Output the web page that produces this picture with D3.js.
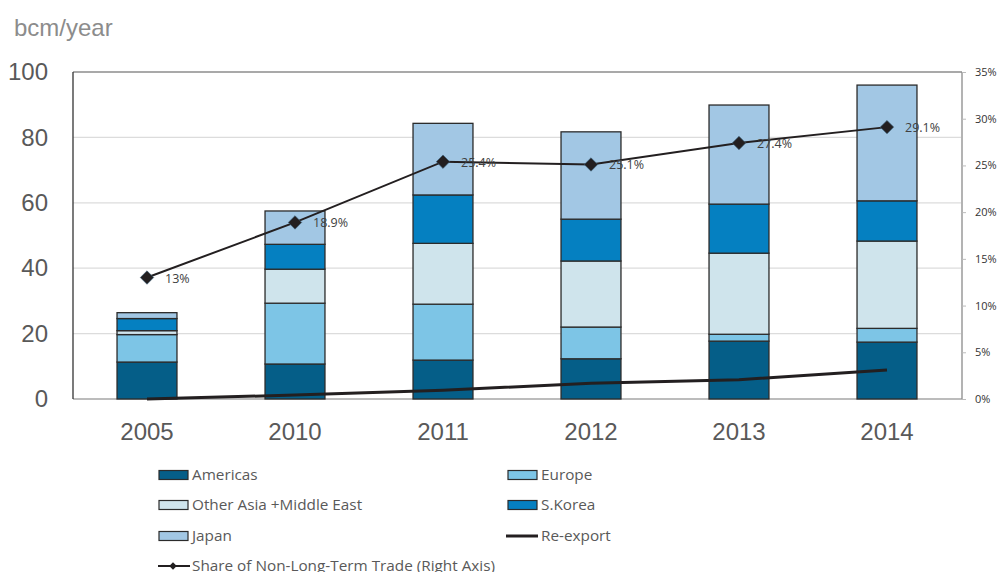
<!DOCTYPE html>
<html><head><meta charset="utf-8">
<script src="https://cdn.jsdelivr.net/npm/d3@7"></script>
<style>body{margin:0;background:#fff;} svg{display:block;}</style>
</head><body>
<svg id="c" width="1002" height="572"></svg>
<script>
const years = ["2005","2010","2011","2012","2013","2014"];
const americas = [11.3, 10.7, 11.9, 12.3, 17.7, 17.4];
const europe = [8.4, 18.6, 17.1, 9.7, 2.1, 4.2];
const otherAsia = [1.2, 10.4, 18.6, 20.2, 24.8, 26.7];
const sKorea = [3.7, 7.6, 14.8, 12.8, 15.0, 12.3];
const japan = [1.8, 10.2, 21.9, 26.7, 30.3, 35.4];
const reExport = [0, 1.2, 2.7, 4.8, 5.9, 8.9];
const share = [13, 18.9, 25.4, 25.1, 27.4, 29.1];
const shareLabels = ["13%","18.9%","25.4%","25.1%","27.4%","29.1%"];
const leftTicks = [0,20,40,60,80,100];
const rightTicks = [0,5,10,15,20,25,30,35];

const seriesNames = ["Americas","Europe","Other Asia +Middle East","S.Korea","Japan"];
const seriesData = [americas, europe, otherAsia, sKorea, japan];
const colors = ["#055e88","#7dc5e6","#cfe4ec","#0580c1","#a2c7e4"];

const svg = d3.select("#c");
const L = 73, R = 961, T = 72, B = 399;
const x = d3.scaleBand().domain(years).range([L, R]).paddingInner(0.595).paddingOuter(0.2975);
const y = d3.scaleLinear().domain([0,100]).range([B, T]);
const y2 = d3.scaleLinear().domain([0,35]).range([B, T]);

// gridlines
svg.append("g").selectAll("line").data([20,40,60,80]).join("line")
  .attr("x1", L).attr("x2", R).attr("y1", d=>y(d)).attr("y2", d=>y(d))
  .attr("stroke","#dcdcdc").attr("stroke-width",1.2);
// top border
svg.append("line").attr("x1",L).attr("x2",R+1).attr("y1",y(100)).attr("y2",y(100)).attr("stroke","#555").attr("stroke-width",1.2);
// baseline
svg.append("line").attr("x1",L).attr("x2",R+1).attr("y1",y(0)).attr("y2",y(0)).attr("stroke","#a6a6a6").attr("stroke-width",1.5);

// stacked bars
const table = years.map((yr,i)=>{const o={year:yr}; seriesNames.forEach((n,k)=>o[n]=seriesData[k][i]); return o;});
const stack = d3.stack().keys(seriesNames)(table);
svg.append("g").selectAll("g").data(stack).join("g")
  .attr("fill",(d,i)=>colors[i])
  .selectAll("rect").data(d=>d).join("rect")
  .attr("x", d=>x(d.data.year)).attr("width", x.bandwidth())
  .attr("y", d=>y(d[1])).attr("height", d=>y(d[0])-y(d[1]))
  .attr("stroke","#2b2b2b").attr("stroke-width",1.3);

// left axis line
svg.append("line").attr("x1",L).attr("x2",L).attr("y1",T).attr("y2",B).attr("stroke","#333").attr("stroke-width",1.3);
// right axis
svg.append("line").attr("x1",R+1).attr("x2",R+1).attr("y1",T).attr("y2",B).attr("stroke","#8a8a8a").attr("stroke-width",1.3);
const ra = d3.axisRight(y2).tickValues(rightTicks).tickSize(4).tickFormat(d=>d+"%");
const rag = svg.append("g").attr("transform",`translate(${R+1},0)`).call(ra);
rag.select(".domain").remove();
rag.selectAll(".tick line").attr("stroke","#bbb");
rag.selectAll(".tick text").attr("x",13).attr("fill","#333").style("font-family","'Open Sans',sans-serif").style("font-size","11px");

// left axis
const la = d3.axisLeft(y).tickValues(leftTicks).tickSize(0).tickFormat(d3.format("d"));
const lag = svg.append("g").attr("transform",`translate(48,0)`).call(la);
lag.select(".domain").remove();
lag.selectAll(".tick text").attr("x",0).attr("fill","#595959").style("font-family","'Liberation Sans',Arial,sans-serif").style("font-size","24px");

// x axis labels
const xa = d3.axisBottom(x).tickSize(0);
const xag = svg.append("g").attr("transform",`translate(0,${B})`).call(xa);
xag.select(".domain").remove();
xag.selectAll(".tick text").attr("y",24).attr("fill","#595959").style("font-family","'Liberation Sans',Arial,sans-serif").style("font-size","24px");

// unit
svg.append("text").attr("x",14).attr("y",36).text("bcm/year").attr("fill","#8c8c8c")
  .style("font-family","'Liberation Sans',Arial,sans-serif").style("font-size","24px");

const cx = d=>x(d)+x.bandwidth()/2;
// re-export line
svg.append("path").datum(reExport).attr("fill","none").attr("stroke","#231f20").attr("stroke-width",3)
  .attr("d", d3.line().x((d,i)=>cx(years[i])).y(d=>y(d)));

// share line
svg.append("path").datum(share).attr("fill","none").attr("stroke","#231f20").attr("stroke-width",2)
  .attr("d", d3.line().x((d,i)=>cx(years[i])).y(d=>y2(d)));
const diamond = d3.symbol().type(d3.symbolSquare).size(90);
svg.append("g").selectAll("path").data(share).join("path")
  .attr("d", diamond)
  .attr("transform",(d,i)=>`translate(${cx(years[i])},${y2(d)}) rotate(45)`)
  .attr("fill","#231f20").attr("stroke","#3b5f78").attr("stroke-width",0.6);
svg.append("g").selectAll("text").data(share).join("text")
  .attr("x",(d,i)=>cx(years[i])+18).attr("y",d=>y2(d)+5)
  .text((d,i)=>shareLabels[i]).attr("fill","#404040")
  .style("font-family","'Open Sans',sans-serif").style("font-size","12.5px");

// legend
const legFont = "'Open Sans',sans-serif";
const legItems = [
  {name:"Americas", type:"rect", color:colors[0], x:159, y:475},
  {name:"Europe", type:"rect", color:colors[1], x:508, y:475},
  {name:"Other Asia +Middle East", type:"rect", color:colors[2], x:159, y:505},
  {name:"S.Korea", type:"rect", color:colors[3], x:508, y:505},
  {name:"Japan", type:"rect", color:colors[4], x:159, y:536},
  {name:"Re-export", type:"line", x:508, y:536},
  {name:"Share of Non-Long-Term Trade (Right Axis)", type:"marker", x:158, y:566}
];
const lg = svg.append("g");
legItems.forEach(it=>{
  if(it.type==="rect"){
    lg.append("rect").attr("x",it.x).attr("y",it.y-4.5).attr("width",29).attr("height",9)
      .attr("fill",it.color).attr("stroke","#2b2b2b").attr("stroke-width",1.2);
  } else if(it.type==="line"){
    lg.append("line").attr("x1",it.x-2).attr("x2",it.x+30).attr("y1",it.y).attr("y2",it.y).attr("stroke","#231f20").attr("stroke-width",3);
  } else {
    lg.append("line").attr("x1",it.x).attr("x2",it.x+32).attr("y1",it.y).attr("y2",it.y).attr("stroke","#231f20").attr("stroke-width",2);
    lg.append("path").attr("d",d3.symbol().type(d3.symbolSquare).size(28)).attr("transform",`translate(${it.x+15},${it.y}) rotate(45)`).attr("fill","#231f20");
  }
  lg.append("text").attr("x",it.x+(it.type==="marker"?34:33)).attr("y",it.y+5).text(it.name)
    .attr("fill","#595959").style("font-family",legFont).style("font-size","15.3px");
});
</script>
</body></html>
